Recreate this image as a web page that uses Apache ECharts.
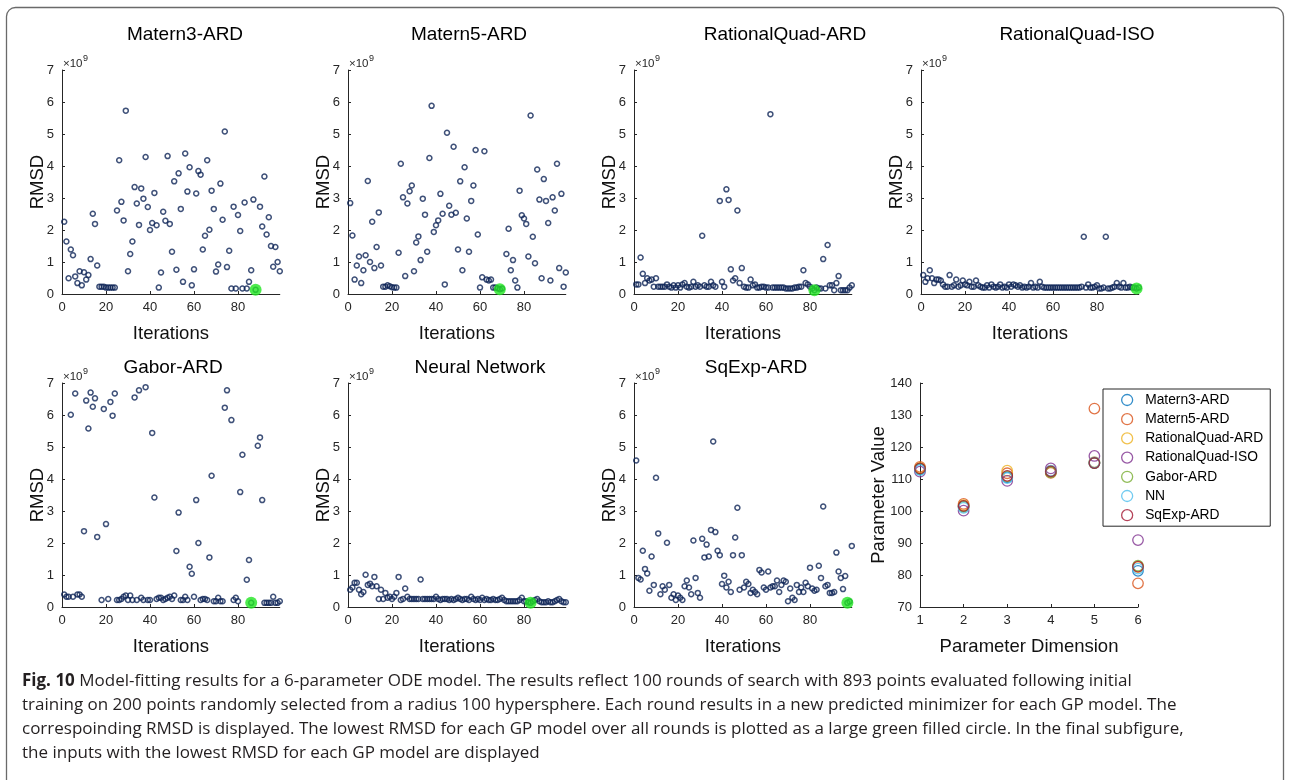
<!DOCTYPE html>
<html><head><meta charset="utf-8">
<script src="https://cdn.jsdelivr.net/npm/echarts@6/dist/echarts.min.js"></script>
<style>html,body{margin:0;padding:0;background:#fff}#c{width:1289px;height:780px}</style>
</head><body><div id="c"></div>
<script>
// ---------------- DATA ----------------
const panelTitles = ['Matern3-ARD','Matern5-ARD','RationalQuad-ARD','RationalQuad-ISO','Gabor-ARD','Neural Network','SqExp-ARD'];
// RMSD values (x 1e9) for iterations 1..99 (null = no visible point)
const matern3 = [2.26,1.64,0.49,1.39,1.21,0.55,0.34,0.71,0.27,0.68,
0.45,0.59,1.09,2.51,2.19,0.89,0.23,0.23,0.23,0.20,
0.20,0.20,0.20,0.20,2.61,4.18,2.88,2.30,5.73,0.71,
1.25,1.64,3.34,2.83,2.16,3.30,2.98,4.28,2.72,2.00,
2.22,3.16,2.15,0.20,0.67,2.57,2.29,4.31,2.19,1.32,
3.52,0.76,3.77,2.66,0.38,4.39,3.20,3.96,0.27,0.77,
3.14,3.84,3.73,1.39,1.82,4.18,2.01,3.23,2.66,0.70,
0.92,3.45,2.32,5.08,0.84,1.35,0.17,2.73,0.17,2.47,
1.97,0.17,2.86,0.17,0.38,0.74,2.95,0.13,null,2.73,
2.11,3.67,1.86,2.40,1.50,0.85,1.47,1.00,0.71];
const matern5 = [2.84,1.83,0.45,0.89,1.17,0.34,0.74,1.21,3.53,1.00,
2.26,0.81,1.47,2.55,0.89,0.23,0.23,0.27,0.24,0.21,
0.20,0.20,1.29,4.07,3.02,0.56,2.83,3.21,3.39,0.71,
1.61,1.80,1.06,2.98,2.48,1.32,4.25,5.88,1.94,2.15,
2.30,3.13,2.51,0.30,5.04,2.76,2.48,4.60,2.54,1.39,
3.52,0.74,3.96,2.36,1.32,2.91,3.39,4.50,1.86,0.20,
0.52,4.46,0.45,0.42,0.45,0.20,0.20,0.18,0.15,0.17,
null,1.25,2.04,0.74,1.06,0.42,0.20,3.23,2.46,2.36,
2.19,1.17,5.58,1.79,0.96,3.89,2.95,0.49,3.59,2.91,
2.22,0.42,3.02,2.61,4.07,0.81,3.13,0.23,0.67];
const rqArd = [0.30,0.30,1.14,0.63,0.34,0.49,0.42,0.45,0.23,0.49,
0.23,0.23,0.23,0.23,0.30,0.23,0.20,0.27,0.20,0.27,
0.20,0.30,0.34,0.23,0.20,0.23,0.38,0.23,0.27,0.23,
1.82,0.27,0.23,0.23,0.38,0.27,0.23,null,2.91,0.38,
0.23,3.27,2.94,0.77,0.42,0.49,2.61,0.34,0.81,0.23,
0.20,0.20,0.45,0.27,0.30,0.20,0.20,0.23,0.23,0.20,
0.20,5.62,0.20,0.20,0.20,0.20,0.20,0.20,0.17,0.17,
0.17,0.17,0.20,0.20,0.23,0.23,0.74,0.34,0.30,0.23,
0.17,0.12,0.20,0.17,0.17,1.09,0.17,1.53,0.27,0.27,
0.12,0.34,0.56,0.12,0.12,0.12,0.12,0.20,0.27];
const rqIso = [0.59,0.38,0.49,0.74,0.49,0.34,0.45,0.45,0.42,0.30,
0.23,0.23,0.59,0.23,0.27,0.45,0.23,0.27,0.42,0.30,
0.27,0.38,0.23,0.23,0.42,0.27,0.23,0.20,0.20,0.27,
0.20,0.30,0.23,0.20,0.23,0.30,0.20,0.23,0.20,0.30,
0.23,0.30,0.27,0.23,0.27,0.20,0.23,0.20,0.23,0.34,
0.20,0.23,0.20,0.38,0.23,0.20,0.20,0.20,0.20,0.20,
0.20,0.20,0.20,0.20,0.20,0.20,0.20,0.20,0.20,0.20,
0.20,0.20,0.23,1.79,0.20,0.30,0.20,0.20,0.23,0.27,
0.17,0.17,0.20,1.79,0.17,0.17,0.20,0.23,0.34,0.23,
0.20,0.34,0.20,0.20,0.23,0.20,0.20,0.17,0.20];
const gaborArd = [0.39,0.32,0.32,6.01,0.32,6.67,0.39,0.39,0.32,2.37,
6.45,5.58,6.70,6.26,6.52,2.19,null,0.22,6.19,2.59,
0.25,6.41,5.98,6.67,0.22,0.22,0.25,0.32,0.36,0.22,
0.36,0.22,6.55,0.22,6.77,0.29,0.22,6.87,0.22,0.22,
5.44,3.42,0.25,0.29,0.29,0.22,0.25,0.29,0.32,0.25,
0.36,1.75,2.95,0.22,0.22,0.32,0.22,1.26,1.04,0.32,
3.34,2.00,0.22,0.25,0.25,0.22,1.55,4.10,0.18,0.18,
0.29,0.18,0.18,6.23,6.77,null,5.84,0.22,0.29,0.18,
3.59,4.76,null,0.85,1.47,0.13,null,null,5.04,5.30,
3.34,0.13,0.13,0.13,0.13,0.32,0.13,0.13,0.18];
const neuralNet = [0.54,0.61,0.76,0.76,0.54,0.40,0.47,1.01,0.69,0.73,
0.65,0.94,0.65,0.25,0.54,0.25,0.44,0.29,0.32,0.25,
0.32,0.44,0.94,0.22,0.25,0.58,0.32,0.25,0.25,0.25,
0.25,0.25,0.86,0.25,0.25,0.25,0.25,0.25,0.25,0.32,
0.25,0.22,0.25,0.25,0.25,0.22,0.25,0.22,0.25,0.29,
0.25,0.22,0.25,0.25,0.22,0.32,0.25,0.22,0.25,0.22,
0.29,0.22,0.25,0.22,0.22,0.25,0.22,0.22,0.25,0.29,
0.22,0.18,0.18,0.18,0.18,0.18,0.18,0.22,0.29,0.18,
0.18,0.15,0.13,0.18,0.22,0.25,0.18,0.15,0.15,0.15,
0.18,0.15,0.15,0.18,0.22,0.25,0.18,0.15,0.15];
const sqExpArd = [4.58,0.91,0.86,1.76,1.19,1.05,0.51,1.58,0.69,4.04,
2.30,0.40,0.65,0.54,2.01,0.69,0.29,0.40,0.22,0.36,
0.29,0.22,0.65,0.83,0.61,0.40,2.08,0.91,0.44,0.29,
2.13,1.55,1.95,1.58,2.41,5.17,2.34,1.76,1.62,0.72,
0.98,0.61,0.79,0.47,1.62,2.17,3.10,0.54,1.62,0.61,
0.79,0.72,0.44,0.54,0.47,0.40,1.16,1.08,0.61,0.54,
1.11,0.61,0.65,0.65,0.83,0.47,0.69,0.83,0.79,0.18,
0.58,0.29,0.22,0.69,0.47,0.61,0.47,0.76,0.65,1.23,
0.58,0.51,0.54,1.29,0.91,3.14,0.65,0.69,0.44,0.44,
0.47,1.70,1.11,0.91,0.56,0.97,0.13,0.17,1.91];
const bestIter = [88,69,82,98,86,83,97];
const bestRmsd = [0.13,0.15,0.12,0.17,0.13,0.13,0.13];
const iterTicks = [0,20,40,60,80];
const rmsdTicks = [0,1,2,3,4,5,6,7];

// Final subfigure: parameter values of best inputs, dimensions 1..6
const dims = [1,2,3,4,5,6];
const paramModels = ['Matern3-ARD','Matern5-ARD','RationalQuad-ARD','RationalQuad-ISO','Gabor-ARD','NN','SqExp-ARD'];
const pMatern3 = [113.0,101.5,110.5,112.3,115.0,81.3];
const pMatern5 = [113.8,102.2,111.8,111.9,132.0,77.4];
const pRqArd   = [113.5,101.8,112.6,112.5,115.3,82.5];
const pRqIso   = [112.3,100.1,109.4,113.3,117.2,90.9];
const pGabor   = [113.2,101.3,110.8,112.1,115.0,82.9];
const pNN      = [112.8,101.0,110.3,112.6,115.2,82.0];
const pSqExp   = [113.3,101.6,111.0,112.4,115.0,82.6];

const captionLines = [
 'Model-fitting results for a 6-parameter ODE model. The results reflect 100 rounds of search with 893 points evaluated following initial',
 'training on 200 points randomly selected from a radius 100 hypersphere. Each round results in a new predicted minimizer for each GP model. The',
 'correspoinding RMSD is displayed. The lowest RMSD for each GP model over all rounds is plotted as a large green filled circle. In the final subfigure,',
 'the inputs with the lowest RMSD for each GP model are displayed'
];

// ---------------- CHART ----------------
const FONT = '"Liberation Sans", Arial, Helvetica, sans-serif';
const CAPFONT = '"Open Sans", "Noto Sans", sans-serif';
const AX = '#262626';
const NAVY = '#0f2557';
const GREEN = '#22e622';
const modelColors = ['#0072BD','#D95319','#EDB120','#7E2F8E','#77AC30','#4DBEEE','#A2142F'];
const rmsdPanels = [matern3, matern5, rqArd, rqIso, gaborArd, neuralNet, sqExpArd];
const paramSeries = [pMatern3,pMatern5,pRqArd,pRqIso,pGabor,pNN,pSqExp];

const panelLeft = [62,348,634,921,62,348,634];
const panelTop = [70,70,70,70,383,383,383];
const titleX = [180,464,780,1072,168,475,751];
const titleY = [20,20,20,20,353,353,353];

const grids=[], xAxes=[], yAxes=[], series=[], titles=[], graphics=[];

function axisCommon(){
  return {
    axisLine:{show:true,onZero:false,lineStyle:{color:AX,width:1}},
    splitLine:{show:false},
    nameMoveOverlap:false,
    nameTextStyle:{fontSize:18.5,color:'#111',fontFamily:FONT},
  };
}

rmsdPanels.forEach((vals,k)=>{
  grids.push({left:panelLeft[k],top:panelTop[k],width:217.8,height:224});
  xAxes.push(Object.assign(axisCommon(),{
    gridIndex:k,type:'value',min:0,max:99,interval:20,
    name:'Iterations',nameLocation:'middle',nameGap:30,
    axisTick:{show:true,inside:true,length:3,customValues:iterTicks,lineStyle:{color:AX}},
    axisLabel:{customValues:iterTicks,fontSize:13,color:AX,margin:7,fontFamily:FONT}
  }));
  yAxes.push(Object.assign(axisCommon(),{
    gridIndex:k,type:'value',min:0,max:7,interval:1,
    name:'RMSD',nameLocation:'middle',nameGap:15,
    axisTick:{show:true,inside:true,length:3,customValues:rmsdTicks,lineStyle:{color:AX}},
    axisLabel:{customValues:rmsdTicks,fontSize:13,color:AX,margin:8,fontFamily:FONT}
  }));
  series.push({type:'scatter',xAxisIndex:k,yAxisIndex:k,symbol:'circle',symbolSize:5,
    itemStyle:{color:'transparent',borderColor:NAVY,borderWidth:1.5},
    data:vals.map((v,i)=>[i+1, v==null?'-':v]),silent:true,z:2});
  series.push({type:'scatter',xAxisIndex:k,yAxisIndex:k,symbol:'circle',symbolSize:12,
    itemStyle:{color:GREEN},data:[[bestIter[k],bestRmsd[k]]],silent:true,z:3});
  titles.push({text:panelTitles[k],left:titleX[k],top:titleY[k],textAlign:'center',
    textStyle:{fontSize:19,fontWeight:'normal',color:'#000',fontFamily:FONT}});
  graphics.push({type:'text',left:panelLeft[k]+1,top:panelTop[k]-12,
    style:{text:'×10',fontSize:11.5,fill:AX,fontFamily:FONT}});
  graphics.push({type:'text',left:panelLeft[k]+21,top:panelTop[k]-16,
    style:{text:'9',fontSize:9,fill:AX,fontFamily:FONT}});
});

// final subfigure
const g8 = 7;
grids.push({left:920,top:383,width:218,height:224});
xAxes.push(Object.assign(axisCommon(),{
  gridIndex:g8,type:'value',min:1,max:6,interval:1,
  name:'Parameter Dimension',nameLocation:'middle',nameGap:30,
  axisTick:{show:true,inside:true,length:3,lineStyle:{color:AX}},
  axisLabel:{fontSize:13,color:AX,margin:7,fontFamily:FONT}
}));
yAxes.push(Object.assign(axisCommon(),{
  gridIndex:g8,type:'value',min:70,max:140,interval:10,
  name:'Parameter Value',nameLocation:'middle',nameGap:32,
  axisTick:{show:true,inside:true,length:3,lineStyle:{color:AX}},
  axisLabel:{fontSize:13,color:AX,margin:8,fontFamily:FONT}
}));
paramSeries.forEach((vals,m)=>{
  series.push({type:'scatter',name:paramModels[m],xAxisIndex:g8,yAxisIndex:g8,symbol:'circle',symbolSize:10.5,
    itemStyle:{color:'transparent',borderColor:modelColors[m],borderWidth:1.3},
    data:vals.map((v,i)=>[dims[i],v]),silent:true,z:2});
});

// frame
graphics.push({type:'rect',shape:{x:6.5,y:7.5,width:1277,height:820,r:9},
  style:{fill:'none',stroke:'#6a6a6a',lineWidth:1.3},z:-1,silent:true});
// caption
graphics.push({type:'text',left:22,top:669,
  style:{text:'{b|Fig. 10} '+captionLines.join('\n'),
    fontFamily:CAPFONT,fontSize:17,lineHeight:24,fill:'#231f20',
    rich:{b:{fontFamily:CAPFONT,fontSize:17,fontWeight:'bold',lineHeight:24,fill:'#231f20'}}}});

const option = {
  animation:false,
  backgroundColor:'#fff',
  title:titles,
  grid:grids, xAxis:xAxes, yAxis:yAxes, series:series,
  legend:{show:true,orient:'vertical',left:1103,top:389,
    data:paramModels.map((n,m)=>({name:n,icon:'circle',
      itemStyle:{color:'transparent',borderColor:modelColors[m],borderWidth:1.3}})),
    itemWidth:26,itemHeight:11,itemGap:5.2,
    padding:[4,7,4,18],
    borderColor:AX,borderWidth:1,backgroundColor:'#fff',
    textStyle:{fontSize:13.8,color:'#000',fontFamily:FONT,lineHeight:14},
    selectedMode:false},
  graphic:graphics
};
const chart = echarts.init(document.getElementById('c'));
chart.setOption(option);
</script></body></html>
